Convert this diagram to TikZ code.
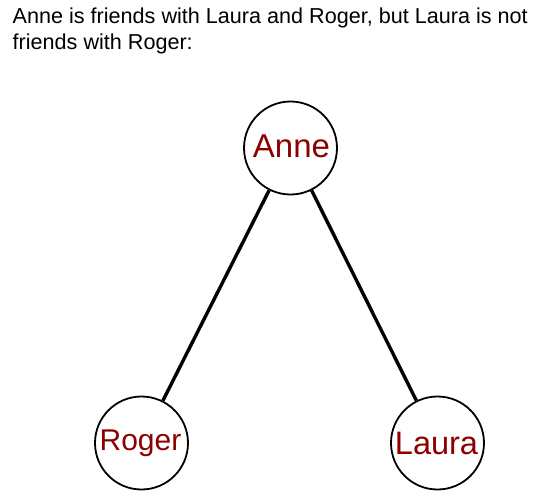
\documentclass[tikz,border=0pt]{standalone}
\usepackage{fontspec}
\setmainfont{Liberation Sans}
\definecolor{namered}{RGB}{140,0,0}
\begin{document}
\begin{tikzpicture}[x=1pt,y=1pt,
  person/.style={circle,draw=black,line width=1.8pt,fill=white,minimum size=93pt,inner sep=0pt,text=namered},
  friend/.style={line width=3.4pt,draw=black}]
\useasboundingbox (0,0) rectangle (559,-501);
\node[anchor=base west,align=left,inner sep=0pt,font=\fontsize{21.6}{25.5}\selectfont] (caption) at (12.5,-49)
  {Anne is friends with Laura and Roger, but Laura is not\\friends with Roger:};
\node[person,font=\fontsize{33}{36}\selectfont] (anne) at (290.5,-148) {};
\node[person,font=\fontsize{30}{33}\selectfont] (roger) at (141.5,-443) {};
\node[person,font=\fontsize{32.5}{35}\selectfont] (laura) at (437.5,-443) {};
\node[anchor=base,inner sep=0pt,text=namered,font=\fontsize{33}{36}\selectfont] (annet) at (291.5,-157) {Anne};
\node[anchor=base,inner sep=0pt,text=namered,font=\fontsize{30}{33}\selectfont] (rogert) at (140.5,-450) {Roger};
\node[anchor=base,inner sep=0pt,text=namered,font=\fontsize{32.5}{35}\selectfont] (laurat) at (436.5,-454) {Laura};
\draw[friend] (anne) -- (roger);
\draw[friend] (anne) -- (laura);
\end{tikzpicture}
\end{document}
